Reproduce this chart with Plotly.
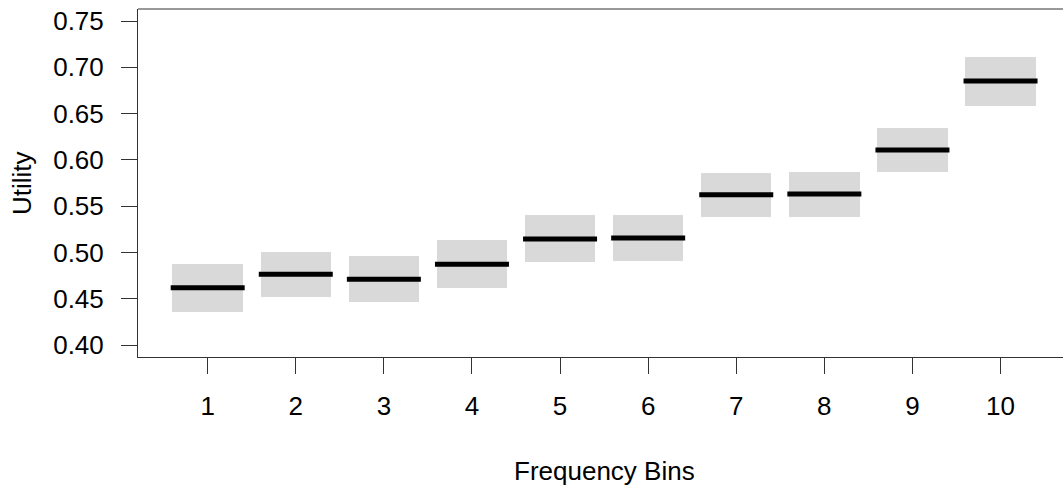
import plotly.graph_objects as go

bins = [1, 2, 3, 4, 5, 6, 7, 8, 9, 10]
utility = [0.4619, 0.4764, 0.4710, 0.4872, 0.5145, 0.5156, 0.5624, 0.5631, 0.6107, 0.6852]
lower = [0.4360, 0.4515, 0.4465, 0.4619, 0.4893, 0.4911, 0.5385, 0.5386, 0.5872, 0.6582]
upper = [0.4872, 0.5008, 0.4961, 0.5134, 0.5404, 0.5404, 0.5861, 0.5869, 0.6344, 0.7108]
y_ticks = [0.40, 0.45, 0.50, 0.55, 0.60, 0.65, 0.70, 0.75]

FONT = "Liberation Sans, Arial, sans-serif"
AXC = "#333333"
FS = 26
half = 0.4

fig = go.Figure()
fig.add_trace(go.Bar(
    x=bins, y=[u - l for u, l in zip(upper, lower)], base=lower,
    width=2 * half, marker=dict(color="#d9d9d9", line=dict(width=0)),
    hoverinfo="skip", showlegend=False))

lx, ly = [], []
for b, m in zip(bins, utility):
    lx += [b - half - 0.02, b + half + 0.02, None]
    ly += [m, m, None]
fig.add_trace(go.Scatter(x=lx, y=ly, mode="lines",
                         line=dict(color="black", width=5),
                         showlegend=False, hoverinfo="skip"))

fig.update_layout(
    width=1063, height=493,
    margin=dict(l=138, r=0, t=9, b=136),
    paper_bgcolor="white", plot_bgcolor="white",
    font=dict(family=FONT, size=FS, color="black"),
    bargap=0,
    xaxis=dict(range=[0.209, 10.709], tickvals=bins, ticktext=[str(b) for b in bins],
               showgrid=False, zeroline=False, showline=True, linecolor=AXC, linewidth=1,
               ticks="outside", ticklen=16, tickcolor=AXC, tickwidth=1,
               ticklabelstandoff=10,
               tickfont=dict(family=FONT, size=FS, color="black")),
    yaxis=dict(range=[0.38704, 0.76296], tickvals=y_ticks,
               ticktext=[f"{v:.2f}" for v in y_ticks],
               showgrid=False, zeroline=False, showline=True, linecolor=AXC, linewidth=1,
               ticks="outside", ticklen=16, tickcolor=AXC, tickwidth=1,
               ticklabelstandoff=12,
               tickfont=dict(family=FONT, size=FS, color="black")),
    shapes=[dict(type="line", xref="paper", yref="paper", x0=0, x1=1, y0=1, y1=1,
                 line=dict(color=AXC, width=1))],
    annotations=[
        dict(text="Frequency Bins", xref="paper", yref="paper", x=(604 - 138) / 925, y=0,
             yanchor="top", xanchor="center", yshift=-97, showarrow=False,
             font=dict(family=FONT, size=FS, color="black")),
        dict(text="Utility", xref="paper", yref="paper", x=0, y=0.5, textangle=-90,
             xanchor="left", yanchor="middle", xshift=-133, showarrow=False,
             font=dict(family=FONT, size=FS, color="black")),
    ],
)
fig.write_html("out.html")
